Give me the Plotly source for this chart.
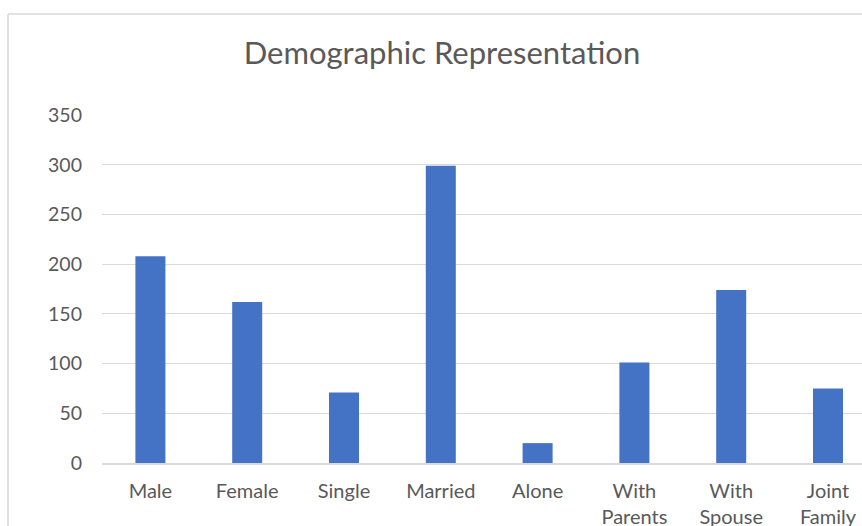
import plotly.graph_objects as go

categories = ["Male", "Female", "Single", "Married", "Alone",
              "With<br>Parents", "With<br>Spouse", "Joint<br>Family"]
counts = [208, 162, 71, 299, 20, 101, 174, 75]
y_ticks = [0, 50, 100, 150, 200, 250, 300, 350]

W, H = 862, 526
L, R, T, B = 102, 0, 115, 63
pw = W - L - R

fig = go.Figure(go.Bar(x=list(range(len(categories))), y=counts,
                       marker=dict(color="#4472C4", line=dict(width=0))))

font = "Lato, 'Open Sans', sans-serif"
fig.update_layout(
    width=W, height=H,
    margin=dict(l=L, r=R, t=T, b=B, pad=0, autoexpand=False),
    paper_bgcolor="white", plot_bgcolor="white",
    bargap=0.69,
    showlegend=False,
    title=dict(text="Demographic Representation", x=(442 - L) / pw, xref="paper",
               xanchor="center", y=1 - 53 / H, yref="container", yanchor="middle",
               font=dict(family=font, size=31, color="#595959")),
    font=dict(family=font, size=20, color="#595959"),
)
fig.update_xaxes(
    tickmode="array", tickvals=list(range(len(categories))), ticktext=categories,
    range=[-0.5, -0.5 + pw / 96.8], automargin=False,
    showgrid=False, zeroline=False,
    showline=True, linecolor="#d9d9d9", linewidth=1.5,
    ticks="", ticklabelstandoff=9,
    tickfont=dict(family=font, size=20, color="#595959"),
)
fig.update_yaxes(
    range=[0, 350], tickmode="array", tickvals=y_ticks, automargin=False,
    showgrid=True, gridcolor="#d9d9d9", gridwidth=1.4,
    zeroline=False, showline=False, ticks="", ticklabelstandoff=19,
    tickfont=dict(family=font, size=19.5, color="#595959"),
)
# chart border (left and top edges visible; rest cropped)
x_left = (8 - L) / pw
y_top = 1 + (T - 14) / (H - T - B)
fig.add_shape(type="line", xref="paper", yref="paper", x0=x_left, x1=1.2,
              y0=y_top, y1=y_top, line=dict(color="#d9d9d9", width=1.5))
fig.add_shape(type="line", xref="paper", yref="paper", x0=x_left, x1=x_left,
              y0=y_top, y1=-0.5, line=dict(color="#d9d9d9", width=1.5))

fig.write_html("out.html")
